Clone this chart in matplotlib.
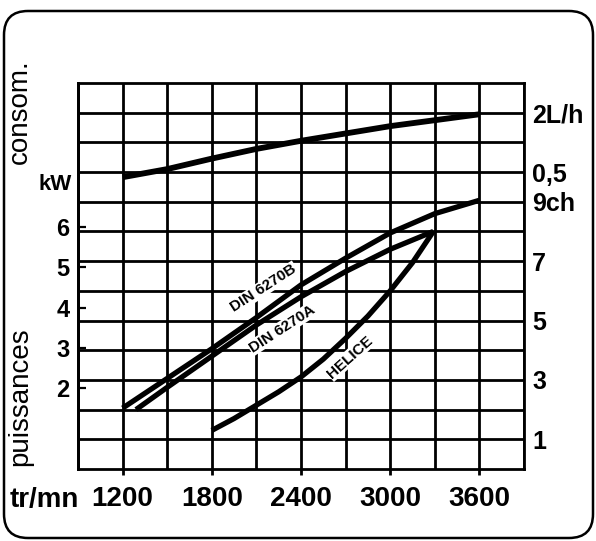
"""
Courbes de puissance / consommation moteur (fiche technique scannee).
"""
import matplotlib.pyplot as plt
from matplotlib.patches import FancyBboxPatch
from matplotlib.transforms import IdentityTransform
from matplotlib.ticker import FixedLocator

plt.rcParams["font.family"] = ["Liberation Sans", "DejaVu Sans"]

# ── Data ──────────────────────────────────────────────────────────────────────
rpm_din_b = [1200, 1500, 1800, 2100, 2400, 2700, 3000, 3300, 3600]
ch_din_b = [2.05, 3.05, 4.05, 5.1, 6.2, 7.1, 7.95, 8.6, 9.05]

rpm_din_a = [1290, 1500, 1800, 2100, 2400, 2700, 3000, 3290]
ch_din_a = [2.0, 2.75, 3.8, 4.85, 5.8, 6.65, 7.4, 8.0]

rpm_helice = [1800, 1950, 2100, 2250, 2400, 2550, 2700, 2850, 3000, 3150, 3290]
ch_helice = [1.3, 1.7, 2.15, 2.6, 3.1, 3.7, 4.4, 5.15, 6.0, 6.95, 8.0]

rpm_conso = [1200, 1500, 1800, 2100, 2400, 2700, 3000, 3300, 3600]
lh_conso = [0.37, 0.575, 0.84, 1.085, 1.29, 1.475, 1.66, 1.81, 1.96]

rpm_ticks = [1200, 1800, 2400, 3000, 3600]
kw_ticks = [2, 3, 4, 5, 6]
ch_ticks = [1, 3, 5, 7, 9]
ch_labels = ["1", "3", "5", "7", "9ch"]
conso_ticks = [0.5, 2]
conso_labels = ["0,5", "2L/h"]

KW_PER_CH = 0.7355

# ── Canvas ────────────────────────────────────────────────────────────────────
fig = plt.figure(figsize=(5.96, 5.41), dpi=100)
fig.patch.set_facecolor("white")
ax = fig.add_axes([0.1309, 0.1331, 0.7483, 0.7135])
ax2 = ax.twinx()          # consumption scale, L/h (created first: twinx resets ax ticks)
ax.set_xlim(900, 3900)
ax.set_ylim(0, 13)
ax.set_axisbelow(True)

GRID_LW = 2.0

# grid: every 300 tr/mn, every 1 ch
ax.xaxis.set_major_locator(FixedLocator(rpm_ticks))
ax.xaxis.set_minor_locator(FixedLocator(range(900, 3901, 300)))
ax.set_yticks(range(1, 13))
ax.grid(which="both", color="black", lw=GRID_LW)
for s in ax.spines.values():
    s.set_linewidth(GRID_LW)

ax.set_xticklabels([str(v) for v in rpm_ticks], fontsize=20, fontweight="bold")
ax.tick_params(axis="x", which="major", direction="out", length=4,
               width=GRID_LW, pad=8)
ax.tick_params(axis="x", which="minor", length=0)

ylabels = {v: t for v, t in zip(ch_ticks, ch_labels)}
ax.set_yticklabels([ylabels.get(v, "") for v in range(1, 13)],
                   fontsize=18, fontweight="bold")
ax.yaxis.tick_right()
ax.tick_params(axis="y", left=False, right=True, labelleft=False,
               labelright=True, length=0, pad=6)

# ── kW scale (left) ───────────────────────────────────────────────────────────
sec = ax.secondary_yaxis("left", functions=(lambda c: c * KW_PER_CH,
                                            lambda k: k / KW_PER_CH))
sec.set_yticks(kw_ticks)
sec.set_yticklabels([str(v) for v in kw_ticks], fontsize=17, fontweight="bold")
sec.tick_params(direction="in", length=6, width=1.6, pad=6)
sec.spines["left"].set_linewidth(GRID_LW)

# ── consumption scale (right, L/h) ────────────────────────────────────────────
ax2.set_ylim(-7, 2.75)
ax2.set_yticks(conso_ticks)
ax2.set_yticklabels(conso_labels, fontsize=18, fontweight="bold")
ax2.tick_params(axis="y", length=0, pad=6)
for s in ax2.spines.values():
    s.set_visible(False)

# ── Curves ────────────────────────────────────────────────────────────────────
CURVE = dict(color="black", lw=3.8, solid_capstyle="butt", zorder=3)
ax.plot(rpm_din_b, ch_din_b, **CURVE)
ax.plot(rpm_din_a, ch_din_a, **CURVE)
ax.plot(rpm_helice, ch_helice, **CURVE)
ax2.plot(rpm_conso, lh_conso, color="black", lw=4.2, solid_capstyle="butt")

lbl = dict(fontsize=11, fontweight="bold", ha="center", va="center", zorder=2,
           bbox=dict(facecolor="white", edgecolor="none", pad=0.5))
ax.text(2150, 6.1, "DIN 6270B", rotation=33, **lbl)
ax.text(2272, 4.72, "DIN 6270A", rotation=33, **lbl)
ax.text(2730, 3.77, "HELICE", rotation=42, **lbl)

# ── Side texts ────────────────────────────────────────────────────────────────
fig.text(0.0336, 0.793, "consom.", rotation=90, ha="center", va="center",
         fontsize=20)
fig.text(0.0336, 0.266, "puissances", rotation=90, ha="center", va="center",
         fontsize=20)
fig.text(72 / 596, 1 - 185 / 541, "kW", ha="right", va="center",
         fontsize=16, fontweight="bold")
fig.text(10 / 596, 1 - 507 / 541, "tr/mn", ha="left", va="baseline",
         fontsize=20, fontweight="bold")

# ── Frame ─────────────────────────────────────────────────────────────────────
frame = FancyBboxPatch((4, 3), 589, 527, boxstyle="round,pad=0,rounding_size=24",
                       transform=IdentityTransform(), fill=False,
                       edgecolor="black", lw=1.8)
fig.add_artist(frame)

fig.savefig("out.png", dpi=100)
